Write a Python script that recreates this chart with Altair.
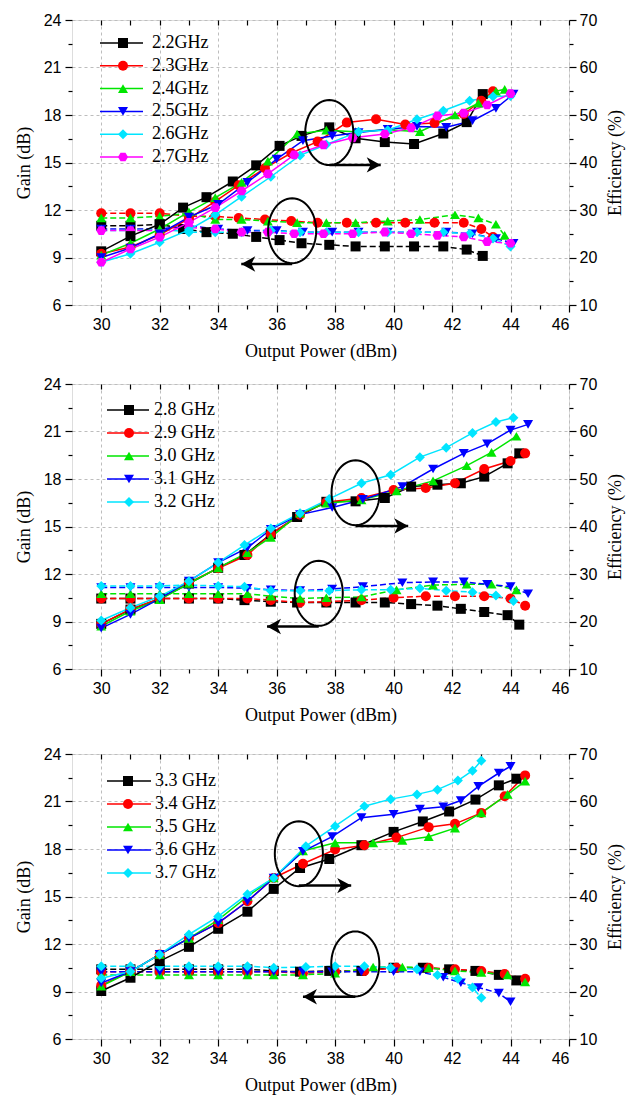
import math
import altair as alt
import pandas as pd

# ---------------- data: panel 1 ----------------
P1_FREQS = ["2.2GHz", "2.3GHz", "2.4GHz", "2.5GHz", "2.6GHz", "2.7GHz"]
P1_POWER = {
    "2.2GHz": [30, 31, 32, 32.8, 33.6, 34.5, 35.3, 36.1, 36.85, 37.8, 38.7, 39.7, 40.7, 41.7, 42.5, 43.05],
    "2.3GHz": [30, 31, 32, 33, 33.9, 34.7, 35.6, 36.5, 37.4, 38.4, 39.4, 40.4, 41.4, 42.4, 43.0, 43.4],
    "2.4GHz": [30, 31, 32, 33, 33.9, 34.8, 35.7, 36.7, 37.7, 38.7, 39.8, 40.9, 42.1, 42.9, 43.5, 43.8],
    "2.5GHz": [30, 31, 32, 33, 34, 35, 36, 36.9, 37.9, 38.8, 39.8, 40.8, 41.8, 42.7, 43.5, 44.1],
    "2.6GHz": [30, 31, 32, 33, 33.9, 34.8, 35.8, 36.8, 37.7, 38.8, 39.8, 40.8, 41.7, 42.6, 43.4, 44.0],
    "2.7GHz": [30, 31, 32, 33, 33.9, 34.8, 35.7, 36.6, 37.6, 38.6, 39.7, 40.6, 41.5, 42.4, 43.2, 44.0],
}
P1_GAIN = {
    "2.2GHz": [11.0, 11.0, 11.1, 10.8, 10.6, 10.5, 10.3, 10.1, 9.9, 9.8, 9.7, 9.7, 9.7, 9.7, 9.5, 9.1],
    "2.3GHz": [11.8, 11.8, 11.8, 11.6, 11.6, 11.5, 11.4, 11.3, 11.2, 11.2, 11.2, 11.2, 11.2, 11.2, 10.8, 10.3],
    "2.4GHz": [11.5, 11.5, 11.6, 11.8, 11.4, 11.4, 11.3, 11.2, 11.2, 11.2, 11.3, 11.4, 11.7, 11.5, 11.1, 10.4],
    "2.5GHz": [10.8, 10.8, 10.8, 11.0, 10.8, 10.7, 10.7, 10.6, 10.6, 10.6, 10.6, 10.6, 10.6, 10.5, 10.2, 9.9],
    "2.6GHz": [10.7, 10.7, 10.8, 10.6, 10.6, 10.6, 10.7, 10.6, 10.6, 10.6, 10.6, 10.6, 10.6, 10.5, 10.2, 9.7],
    "2.7GHz": [10.7, 10.7, 10.7, 10.9, 10.8, 10.6, 10.6, 10.5, 10.5, 10.5, 10.6, 10.5, 10.4, 10.3, 10.0, 9.9],
}
P1_EFF = {
    "2.2GHz": [21.3, 24.5, 27.0, 30.5, 32.7, 36.0, 39.4, 43.5, 45.6, 47.4, 45.1, 44.3, 43.9, 46.1, 48.5, 54.4],
    "2.3GHz": [20.8, 22.2, 24.8, 28.2, 31.8, 35.2, 38.8, 42.0, 44.4, 48.4, 49.1, 48.0, 48.3, 50.2, 53.0, 55.0],
    "2.4GHz": [20.5, 23.0, 26.0, 29.6, 32.6, 35.8, 40.3, 46.0, 46.8, 46.5, 46.9, 46.5, 50.0, 52.5, 55.0, 55.4],
    "2.5GHz": [20.0, 22.0, 25.0, 28.5, 31.2, 35.8, 40.7, 44.6, 45.6, 46.3, 47.0, 47.6, 47.4, 48.8, 51.4, 54.4],
    "2.6GHz": [19.0, 20.8, 23.2, 25.8, 29.0, 32.8, 37.0, 41.5, 43.8, 46.5, 46.8, 49.1, 50.9, 53.0, 53.9, 54.0],
    "2.7GHz": [19.0, 21.8, 24.3, 27.4, 30.5, 34.0, 37.6, 41.6, 43.7, 45.2, 46.0, 47.3, 49.8, 50.4, 52.1, 54.5],
}
# annotation: (x, y) of ellipse and (x_start, x_end, y) of arrow
P1_EFF_ELLIPSE = (37.8, 46.3)
P1_EFF_ARROW = (37.8, 39.56, 39.5)
P1_GAIN_ELLIPSE = (36.53, 10.69)
P1_GAIN_ARROW = (36.53, 34.79, 8.59)

# ---------------- data: panel 2 ----------------
P2_FREQS = ["2.8 GHz", "2.9 GHz", "3.0 GHz", "3.1 GHz", "3.2 GHz"]
P2_POWER = {
    "2.8 GHz": [30, 31, 32, 33, 34, 34.9, 35.8, 36.7, 37.7, 38.7, 39.7, 40.6, 41.5, 42.3, 43.1, 43.9, 44.3],
    "2.9 GHz": [30, 31, 32, 33, 34, 35, 35.8, 36.8, 37.7, 38.9, 40.0, 41.1, 42.1, 43.1, 44.0, 44.5],
    "3.0 GHz": [30, 31, 32, 33, 34, 35, 35.8, 36.8, 37.7, 38.9, 40.1, 41.35, 42.5, 43.35, 44.2],
    "3.1 GHz": [30, 31, 32, 33, 34, 35, 35.8, 36.8, 37.9, 38.95, 40.3, 41.35, 42.4, 43.2, 44.0, 44.6],
    "3.2 GHz": [30, 31, 32, 33, 34, 34.9, 35.8, 36.8, 37.8, 38.9, 39.9, 40.9, 41.8, 42.7, 43.5, 44.1],
}
P2_GAIN = {
    "2.8 GHz": [10.45, 10.45, 10.45, 10.45, 10.45, 10.35, 10.25, 10.2, 10.2, 10.2, 10.2, 10.1, 10.0, 9.8, 9.6, 9.4, 8.8],
    "2.9 GHz": [10.45, 10.45, 10.45, 10.45, 10.45, 10.45, 10.35, 10.2, 10.25, 10.35, 10.5, 10.6, 10.6, 10.6, 10.45, 10.0],
    "3.0 GHz": [10.75, 10.75, 10.75, 10.75, 10.75, 10.75, 10.6, 10.45, 10.5, 10.55, 11.0, 11.3, 11.35, 11.35, 11.0],
    "3.1 GHz": [11.15, 11.15, 11.15, 11.15, 11.15, 11.1, 11.0, 10.95, 11.05, 11.2, 11.45, 11.5, 11.5, 11.35, 11.2, 10.75],
    "3.2 GHz": [11.25, 11.25, 11.25, 11.3, 11.25, 11.2, 10.95, 10.95, 10.95, 11.0, 11.0, 11.1, 10.95, 10.85, 10.65, 10.3],
}
P2_EFF = {
    "2.8 GHz": [19.5, 22.5, 24.8, 28.0, 31.3, 34.0, 38.4, 42.0, 45.2, 45.3, 46.0, 48.4, 48.8, 49.1, 50.5, 53.3, 55.4],
    "2.9 GHz": [19.5, 22.6, 24.8, 28.2, 31.2, 34.0, 38.4, 42.5, 45.1, 46.0, 47.7, 48.1, 49.1, 52.1, 53.8, 55.4],
    "3.0 GHz": [19.0, 22.2, 24.6, 28.0, 31.3, 34.5, 37.7, 42.8, 44.9, 45.6, 47.5, 49.6, 52.8, 55.6, 59.0],
    "3.1 GHz": [18.6, 21.5, 24.8, 28.5, 32.4, 35.5, 39.4, 42.5, 44.0, 45.7, 48.4, 52.1, 55.4, 57.4, 60.3, 61.5],
    "3.2 GHz": [20.2, 22.9, 25.3, 28.5, 32.4, 36.1, 39.6, 42.8, 45.8, 49.1, 50.9, 54.6, 56.6, 59.7, 62.0, 62.9],
}
P2_EFF_ELLIPSE = (38.7, 47.1)
P2_EFF_ARROW = (38.7, 40.5, 40.1)
P2_GAIN_ELLIPSE = (37.44, 10.78)
P2_GAIN_ARROW = (37.44, 35.67, 8.68)

# ---------------- data: panel 3 ----------------
P3_FREQS = ["3.3 GHz", "3.4 GHz", "3.5 GHz", "3.6 GHz", "3.7 GHz"]
P3_POWER = {
    "3.3 GHz": [30, 31, 32, 33, 34, 35, 35.9, 36.8, 37.8, 38.9, 40, 41, 41.9, 42.8, 43.6, 44.2],
    "3.4 GHz": [30, 31, 32, 33, 34, 35, 35.9, 36.9, 38.0, 39.0, 40.1, 41.2, 42.1, 43.0, 43.8, 44.5],
    "3.5 GHz": [30, 31, 32, 33, 34, 35, 35.9, 36.9, 38.0, 39.3, 40.3, 41.2, 42.1, 43.0, 43.9, 44.5],
    "3.6 GHz": [30, 31, 32, 33, 34, 35, 35.9, 36.9, 37.9, 38.9, 40.0, 40.9, 41.7, 42.3, 42.9, 43.6, 44.0],
    "3.7 GHz": [30, 31, 32, 33, 34, 35, 35.9, 37.0, 38.0, 39.0, 39.9, 40.8, 41.5, 42.2, 42.7, 43.0],
}
P3_GAIN = {
    "3.3 GHz": [10.4, 10.4, 10.4, 10.4, 10.4, 10.4, 10.3, 10.25, 10.3, 10.3, 10.5, 10.5, 10.4, 10.3, 10.05, 9.7],
    "3.4 GHz": [10.25, 10.25, 10.25, 10.25, 10.25, 10.25, 10.25, 10.15, 10.25, 10.3, 10.5, 10.5, 10.4, 10.3, 10.1, 9.8],
    "3.5 GHz": [10.05, 10.05, 10.05, 10.05, 10.05, 10.05, 10.05, 10.05, 10.15, 10.55, 10.55, 10.5, 10.3, 10.2, 10.05, 9.6],
    "3.6 GHz": [10.25, 10.25, 10.25, 10.25, 10.25, 10.25, 10.25, 10.25, 10.25, 10.25, 10.25, 10.25, 9.9, 9.55, 9.25, 8.9, 8.35],
    "3.7 GHz": [10.6, 10.6, 10.6, 10.6, 10.6, 10.6, 10.5, 10.55, 10.6, 10.6, 10.5, 10.4, 10.05, 9.8, 9.25, 8.6],
}
P3_EFF = {
    "3.3 GHz": [20.1, 22.9, 26.4, 29.4, 33.2, 36.8, 41.6, 46.0, 47.9, 50.8, 53.6, 55.8, 57.9, 60.4, 63.4, 64.8],
    "3.4 GHz": [21.3, 24.2, 27.8, 31.2, 34.4, 39.0, 43.9, 46.9, 49.9, 50.8, 52.4, 54.6, 55.3, 57.6, 61.1, 65.5],
    "3.5 GHz": [21.1, 24.2, 27.8, 31.2, 35.1, 40.0, 43.9, 49.6, 51.3, 51.3, 51.8, 52.6, 54.4, 57.6, 61.5, 64.3],
    "3.6 GHz": [21.8, 24.2, 27.8, 31.2, 34.4, 39.0, 43.9, 49.5, 52.6, 56.6, 57.3, 58.4, 58.9, 60.2, 63.2, 66.0, 67.4],
    "3.7 GHz": [22.8, 24.2, 27.8, 32.0, 35.8, 40.5, 43.9, 50.6, 54.8, 59.0, 60.5, 61.5, 62.5, 64.4, 66.5, 68.6],
}
P3_EFF_ELLIPSE = (36.76, 49.0)
P3_EFF_ARROW = (36.76, 38.55, 42.3)
P3_GAIN_ELLIPSE = (38.69, 10.74)
P3_GAIN_ARROW = (38.69, 36.9, 8.67)

# ---------------- axes / style ----------------
X_DOMAIN = [29, 46]
GAIN_DOMAIN = [6, 24]
EFF_DOMAIN = [10, 70]
X_TICKS = list(range(30, 47))
GAIN_TICKS = [6 + 1.5 * i for i in range(13)]
EFF_TICKS = list(range(10, 71, 5))

COLORS = ["#000000", "#ff0000", "#00e600", "#0000ff", "#00e5ff", "#ff00ff"]
HEX = "M-1,0L-0.5,-0.866L0.5,-0.866L1,0L0.5,0.866L-0.5,0.866Z"
SHAPES = ["square", "circle", "triangle-up", "triangle-down", "diamond", HEX]


def ellipse_path(rx, ry, n=60):
    pts = []
    for i in range(n):
        a = 2 * math.pi * i / n
        pts.append(f"{rx * math.cos(a):.3f},{ry * math.sin(a):.3f}")
    return "M" + "L".join(pts) + "Z"


ELLIPSE = ellipse_path(0.74, 1.0)
ARROW_R = "M1,0L-1,-1.1L-0.45,0L-1,1.1Z"
ARROW_L = "M-1,0L1,-1.1L0.45,0L1,1.1Z"

SANS = "Liberation Sans"
SERIF = "Liberation Serif"
GRID = "#bdbdbd"
MSIZE = 100
LW = 1.5

W, H = 497, 285


def cond(test, a, b):
    return {"condition": {"test": test, "value": a}, "value": b}


X_MAJ = "datum.value % 2 == 0"
G_MAJ = "datum.value % 3 == 0"
E_MAJ = "datum.value % 10 == 0"

x_axis_bottom = alt.Axis(
    values=X_TICKS, labelExpr=f"{X_MAJ} ? datum.label : ''",
    title="Output Power (dBm)", tickSize=cond(X_MAJ, 7, 4), tickColor="black", tickWidth=1.2,
    grid=True, gridDash=[3, 3], gridColor=GRID, gridOpacity=cond(X_MAJ, 1, 0),
    domain=False, labelFont=SANS, labelFontSize=16, labelColor="black", labelPadding=4,
    titleFont=SERIF, titleFontSize=18, titleFontWeight="normal", titleColor="black", titlePadding=10,
)
x_axis_top = alt.Axis(
    orient="top", values=X_TICKS, labels=False, title=None, tickSize=5, tickColor="black",
    tickWidth=1.2, grid=False, domain=False, offset=-5,
)
gain_axis = alt.Axis(
    values=GAIN_TICKS, labelExpr=f"{G_MAJ} ? datum.label : ''", title="Gain (dB)",
    tickSize=cond(G_MAJ, 7, 4), tickColor="black", tickWidth=1.2,
    grid=True, gridDash=[3, 3], gridColor=GRID, gridOpacity=cond(G_MAJ, 1, 0),
    domain=False, labelFont=SANS, labelFontSize=16, labelColor="black", labelPadding=4,
    titleFont=SERIF, titleFontSize=18, titleFontWeight="normal", titleColor="black", titlePadding=10,
)
eff_axis = alt.Axis(
    orient="right", values=EFF_TICKS, labelExpr=f"{E_MAJ} ? datum.label : ''", title="Efficiency (%)",
    tickSize=cond(E_MAJ, 7, 4), tickColor="black", tickWidth=1.2, grid=False,
    domain=False, labelFont=SANS, labelFontSize=16, labelColor="black", labelPadding=3,
    titleFont=SERIF, titleFontSize=18, titleFontWeight="normal", titleColor="black", titlePadding=10,
    titleAngle=270, titleBaseline="top",
)


def panel(freqs, power, gain, eff, eff_ell, eff_arr, gain_ell, gain_arr, leg_y, leg_x):
    rows = []
    for f in freqs:
        for p, g, e in zip(power[f], gain[f], eff[f]):
            rows.append({"freq": f, "power": p, "gain": g, "eff": e})
    df = pd.DataFrame(rows)
    n = len(freqs)

    color = alt.Color("freq:N", scale=alt.Scale(domain=freqs, range=COLORS[:n]), legend=None)
    shape = alt.Shape("freq:N", scale=alt.Scale(domain=freqs, range=SHAPES[:n]), legend=None)
    xs = alt.Scale(domain=X_DOMAIN, nice=False, zero=False)
    xb = alt.X("power:Q", scale=xs, axis=x_axis_bottom)
    xt = alt.X("power:Q", scale=xs, axis=x_axis_top)
    yg = alt.Y("gain:Q", scale=alt.Scale(domain=GAIN_DOMAIN, nice=False, zero=False), axis=gain_axis)
    ye = alt.Y("eff:Q", scale=alt.Scale(domain=EFF_DOMAIN, nice=False, zero=False), axis=eff_axis)

    base = alt.Chart(df)
    g_line = base.mark_line(strokeWidth=LW, strokeDash=[6, 3]).encode(x=xb, y=yg, color=color)
    g_pt = base.mark_point(filled=True, size=MSIZE, opacity=1).encode(x=xb, y=yg, color=color, shape=shape)
    e_line = base.mark_line(strokeWidth=LW).encode(x=xt, y=ye, color=color)
    e_pt = base.mark_point(filled=True, size=MSIZE, opacity=1).encode(x=xt, y=ye, color=color, shape=shape)

    # annotations on the gain scale
    g_ell_df = pd.DataFrame({"power": [gain_ell[0]], "gain": [gain_ell[1]]})
    g_arr_df = pd.DataFrame({"power": [gain_arr[0]], "power_end": [gain_arr[1]], "gain": [gain_arr[2]]})
    g_ell = alt.Chart(g_ell_df).mark_point(shape=ELLIPSE, size=4225, filled=False, color="black",
                                           strokeWidth=2, opacity=1).encode(x=xb, y=yg)
    g_rule = alt.Chart(g_arr_df).mark_rule(color="black", strokeWidth=2.5).encode(
        x=xb, x2=alt.X2("power_end:Q"), y=yg)
    g_head = alt.Chart(g_arr_df).mark_point(shape=ARROW_L, size=196, filled=True, color="black",
                                            opacity=1, xOffset=7).encode(
        x=alt.X("power_end:Q", scale=xs, axis=x_axis_bottom), y=yg)

    # annotations on the efficiency scale
    e_ell_df = pd.DataFrame({"power": [eff_ell[0]], "eff": [eff_ell[1]]})
    e_arr_df = pd.DataFrame({"power": [eff_arr[0]], "power_end": [eff_arr[1]], "eff": [eff_arr[2]]})
    e_ell = alt.Chart(e_ell_df).mark_point(shape=ELLIPSE, size=4225, filled=False, color="black",
                                           strokeWidth=2, opacity=1).encode(x=xt, y=ye)
    e_rule = alt.Chart(e_arr_df).mark_rule(color="black", strokeWidth=2.5).encode(
        x=xt, x2=alt.X2("power_end:Q"), y=ye)
    e_head = alt.Chart(e_arr_df).mark_point(shape=ARROW_R, size=196, filled=True, color="black",
                                            opacity=1, xOffset=-7).encode(
        x=alt.X("power_end:Q", scale=xs, axis=x_axis_top), y=ye)

    # legend
    leg_df = pd.DataFrame({"freq": freqs, "row": list(range(n))})
    yl = alt.Y("row:Q", scale=alt.Scale(domain=[0, n - 1], range=leg_y), axis=None)
    lb = alt.Chart(leg_df)
    l_line = lb.mark_rule(strokeWidth=LW).encode(
        x=alt.value(leg_x[0]), x2=alt.value(leg_x[1]), y=yl, color=color)
    l_pt = lb.mark_point(filled=True, size=MSIZE, opacity=1).encode(
        x=alt.value(leg_x[2]), y=yl, color=color, shape=shape)
    l_txt = lb.mark_text(align="left", baseline="middle", font=SERIF, fontSize=18, color="black").encode(
        x=alt.value(leg_x[3]), y=yl, text="freq:N")

    gain_group = alt.layer(g_line, g_pt, g_ell, g_rule, g_head)
    eff_group = alt.layer(e_line, e_pt, e_ell, e_rule, e_head)
    leg_group = alt.layer(l_line, l_pt, l_txt)
    return (
        alt.layer(gain_group, eff_group, leg_group)
        .resolve_scale(y="independent")
        .resolve_axis(x="independent")
        .properties(width=W, height=H)
    )


p1 = panel(P1_FREQS, P1_POWER, P1_GAIN, P1_EFF, P1_EFF_ELLIPSE, P1_EFF_ARROW,
           P1_GAIN_ELLIPSE, P1_GAIN_ARROW, [23, 137], [28, 71, 51, 80])
p2 = panel(P2_FREQS, P2_POWER, P2_GAIN, P2_EFF, P2_EFF_ELLIPSE, P2_EFF_ARROW,
           P2_GAIN_ELLIPSE, P2_GAIN_ARROW, [26, 118], [35, 77, 57, 82])
p3 = panel(P3_FREQS, P3_POWER, P3_GAIN, P3_EFF, P3_EFF_ELLIPSE, P3_EFF_ARROW,
           P3_GAIN_ELLIPSE, P3_GAIN_ARROW, [27, 119], [35, 79, 56, 83])

chart = (
    alt.vconcat(p1, alt.vconcat(p2, p3, spacing=20), spacing=14)
    .resolve_scale(color="independent", shape="independent")
    .properties(padding={"left": 6, "top": 3, "right": 2, "bottom": 2})
    .configure_view(stroke="black", strokeWidth=1.6)
    .configure(background="white")
)

chart.save("out.html", embed_options={"renderer": "svg", "actions": False})
